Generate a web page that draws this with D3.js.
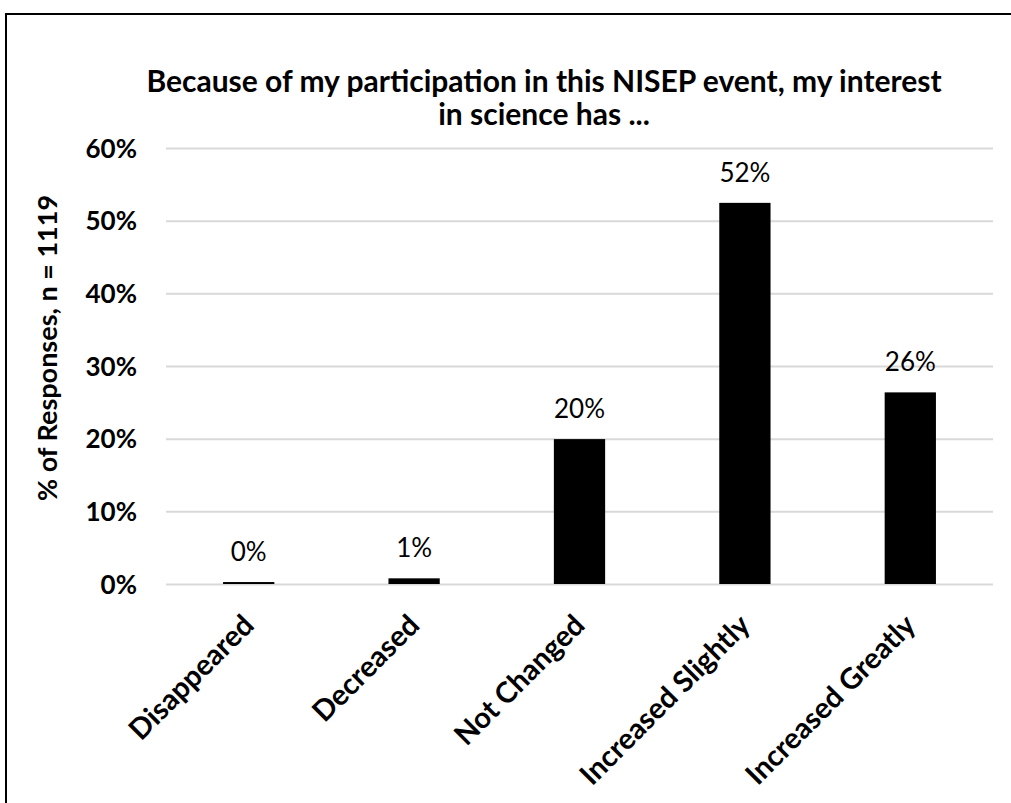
<!DOCTYPE html>
<html>
<head>
<meta charset="utf-8">
<script src="https://cdn.jsdelivr.net/npm/d3@7"></script>
<style>
  html, body { margin: 0; padding: 0; background: #fff; }
  svg { display: block; font-family: Lato, "Open Sans", sans-serif; }
</style>
</head>
<body>
<svg id="chart" width="1011" height="803"></svg>
<script>
const categories = ["Disappeared", "Decreased", "Not Changed", "Increased Slightly", "Increased Greatly"];
const values = [0.0027, 0.0078, 0.1994, 0.5245, 0.2637];
const valueLabels = ["0%", "1%", "20%", "52%", "26%"];
const yTicks = [0, 0.1, 0.2, 0.3, 0.4, 0.5, 0.6];
const titleLines = ["Because of my participation in this NISEP event, my interest", "in science has ..."];
const yTitle = "% of Responses, n = 1119";

const FONT = "Lato, 'Open Sans', sans-serif";
const svg = d3.select("#chart");
const W = 1011, H = 803;
const plot = { left: 166, right: 993, top: 148, bottom: 584 };

svg.append("rect").attr("width", W).attr("height", H).attr("fill", "#fff");
// outer frame (right and bottom edges run off the picture)
svg.append("rect")
  .attr("x", 6).attr("y", 14).attr("width", W + 20).attr("height", H + 20)
  .attr("fill", "none").attr("stroke", "#000").attr("stroke-width", 2);

const x = d3.scaleBand().domain(categories).range([plot.left, plot.right])
  .paddingInner(0.69).paddingOuter(0.345);
const y = d3.scaleLinear().domain([0, 0.6]).range([plot.bottom, plot.top]);

// gridlines + y tick labels
const yAxis = d3.axisLeft(y).tickValues(yTicks).tickFormat(d3.format(".0%"))
  .tickSize(-(plot.right - plot.left)).tickPadding(29);
const gy = svg.append("g").attr("transform", `translate(${plot.left},0)`).call(yAxis)
  .attr("font-family", FONT);
gy.select(".domain").remove();
gy.selectAll(".tick line").attr("stroke", "#d9d9d9").attr("stroke-width", 2);
gy.selectAll(".tick text").attr("font-size", 26).attr("font-weight", "bold").attr("fill", "#000")
  .attr("dy", "0.35em");

// bars
svg.append("g").selectAll("rect").data(categories).join("rect")
  .attr("x", d => x(d))
  .attr("width", x.bandwidth())
  .attr("y", (d, i) => y(values[i]))
  .attr("height", (d, i) => y(0) - y(values[i]))
  .attr("fill", "#000");

// value labels
svg.append("g").selectAll("text").data(categories).join("text")
  .attr("x", d => x(d) + x.bandwidth() / 2)
  .attr("y", (d, i) => y(values[i]) - 21)
  .attr("text-anchor", "middle")
  .attr("font-size", 26)
  .attr("fill", "#000")
  .text((d, i) => valueLabels[i]);

// x axis labels, rotated
const xAxis = d3.axisBottom(x).tickSize(0).tickPadding(0);
const gx = svg.append("g").attr("transform", `translate(0,${plot.bottom})`).call(xAxis)
  .attr("font-family", FONT);
gx.select(".domain").remove();
gx.selectAll(".tick text")
  .attr("font-size", 29).attr("font-weight", "bold").attr("fill", "#000")
  .attr("text-anchor", "end")
  .attr("dy", 0).attr("y", 0)
  .attr("transform", "translate(7,43) rotate(-45)");

// y title
svg.append("text")
  .attr("transform", `translate(57,348) rotate(-90)`)
  .attr("text-anchor", "middle")
  .attr("font-size", 27).attr("font-weight", "bold").attr("fill", "#000")
  .text(yTitle);

// title
svg.append("g").selectAll("text").data(titleLines).join("text")
  .attr("x", 544)
  .attr("y", (d, i) => 92 + i * 33)
  .attr("text-anchor", "middle")
  .attr("font-size", 30).attr("font-weight", "bold").attr("fill", "#000")
  .text(d => d);
</script>
</body>
</html>
